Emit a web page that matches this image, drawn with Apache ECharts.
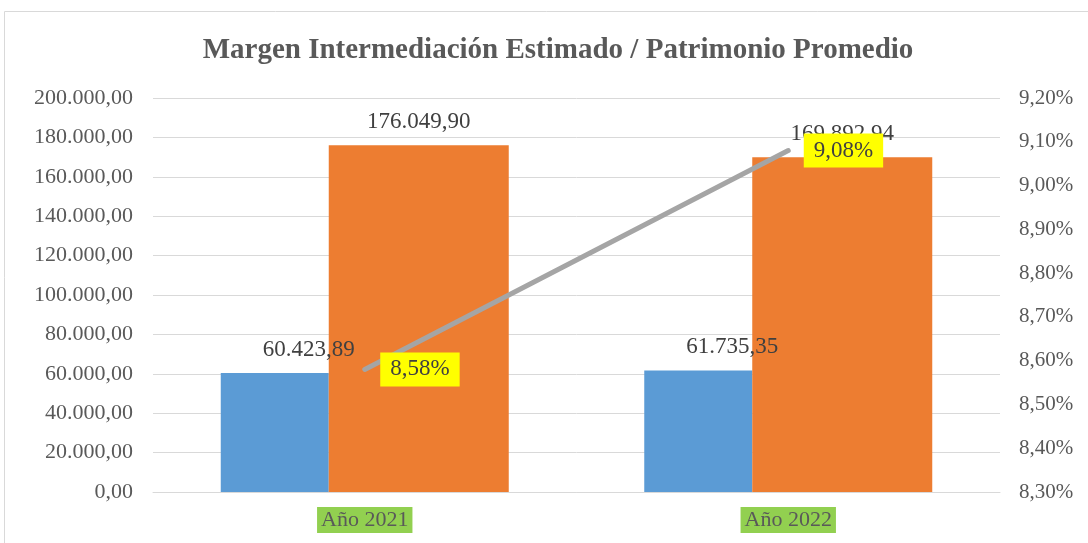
<!DOCTYPE html>
<html>
<head>
<meta charset="utf-8">
<script src="https://cdn.jsdelivr.net/npm/echarts@6/dist/echarts.min.js"></script>
<style>
  html, body { margin: 0; padding: 0; background: #fff; }
  #chart { width: 1088px; height: 543px; }
</style>
</head>
<body>
<div id="chart"></div>
<script>
// data
var years = ['Año 2021', 'Año 2022'];
var margen = [60423.89, 61735.35];
var patrimonio = [176049.90, 169892.94];
var ratio = [8.58, 9.08];

var serif = '"Liberation Serif", "Times New Roman", serif';

function fmtNum(v) {
    var parts = Number(v).toFixed(2).split('.');
    var ent = parts[0].replace(/\B(?=(\d{3})+(?!\d))/g, '.');
    return ent + ',' + parts[1];
}
function fmtPct(v) {
    return Number(v).toFixed(2).replace('.', ',') + '%';
}

var chart = echarts.init(document.getElementById('chart'));

var option = {
    animation: false,
    title: {
        text: 'Margen Intermediación Estimado / Patrimonio Promedio',
        left: 553,
        top: 31,
        textAlign: 'center',
        textStyle: {
            fontFamily: serif,
            fontWeight: 'bold',
            fontSize: 29,
            color: '#595959'
        }
    },
    graphic: [{
        type: 'rect',
        shape: { x: 4.5, y: 11.5, width: 1200, height: 700 },
        style: { fill: 'none', stroke: '#D9D9D9', lineWidth: 1 },
        silent: true
    }],
    grid: { left: 153, right: 88, top: 98, bottom: 51 },
    xAxis: {
        type: 'category',
        data: years,
        axisLine: { lineStyle: { color: '#D9D9D9', width: 1 } },
        axisTick: { show: false },
        axisLabel: {
            margin: 15,
            fontFamily: serif,
            fontSize: 22,
            color: '#595959',
            backgroundColor: '#92D050',
            padding: [2, 4, 2, 4]
        }
    },
    yAxis: [{
        type: 'value',
        min: 0,
        max: 200000,
        interval: 20000,
        axisLine: { show: false },
        axisTick: { show: false },
        splitLine: { lineStyle: { color: '#D9D9D9', width: 1 } },
        axisLabel: {
            margin: 20,
            fontFamily: serif,
            fontSize: 22,
            color: '#595959',
            formatter: fmtNum
        }
    }, {
        type: 'value',
        min: 8.3,
        max: 9.2,
        interval: 0.1,
        axisLine: { show: false },
        axisTick: { show: false },
        splitLine: { show: false },
        axisLabel: {
            margin: 19,
            fontFamily: serif,
            fontSize: 21,
            color: '#595959',
            formatter: fmtPct
        }
    }],
    series: [{
        name: 'Margen Intermediación Estimado',
        type: 'bar',
        data: margen,
        barWidth: 108,
        barGap: '0%',
        itemStyle: { color: '#5B9BD5' },
        label: {
            show: true,
            position: 'top',
            distance: 12,
            offset: [34, 0],
            fontFamily: serif,
            fontSize: 23,
            color: '#404040',
            formatter: function (p) { return fmtNum(p.value); }
        }
    }, {
        name: 'Patrimonio Promedio',
        type: 'bar',
        data: patrimonio,
        barWidth: 180,
        barGap: '0%',
        itemStyle: { color: '#ED7D31' },
        label: {
            show: true,
            position: 'top',
            distance: 12,
            fontFamily: serif,
            fontSize: 23,
            color: '#404040',
            formatter: function (p) { return fmtNum(p.value); }
        }
    }, {
        name: 'Margen / Patrimonio',
        type: 'line',
        yAxisIndex: 1,
        data: ratio,
        showSymbol: true,
        symbol: 'circle',
        symbolSize: 1,
        itemStyle: { color: '#A5A5A5' },
        z: 5,
        lineStyle: { color: '#A5A5A5', width: 5, cap: 'round' },
        label: {
            show: true,
            position: 'right',
            distance: 15,
            fontFamily: serif,
            fontSize: 23,
            color: '#404040',
            backgroundColor: '#FFFF00',
            padding: [6, 10, 5, 10],
            formatter: function (p) { return fmtPct(p.value); }
        },
        labelLayout: { hideOverlap: false }
    }]
};

chart.setOption(option);
</script>
</body>
</html>
